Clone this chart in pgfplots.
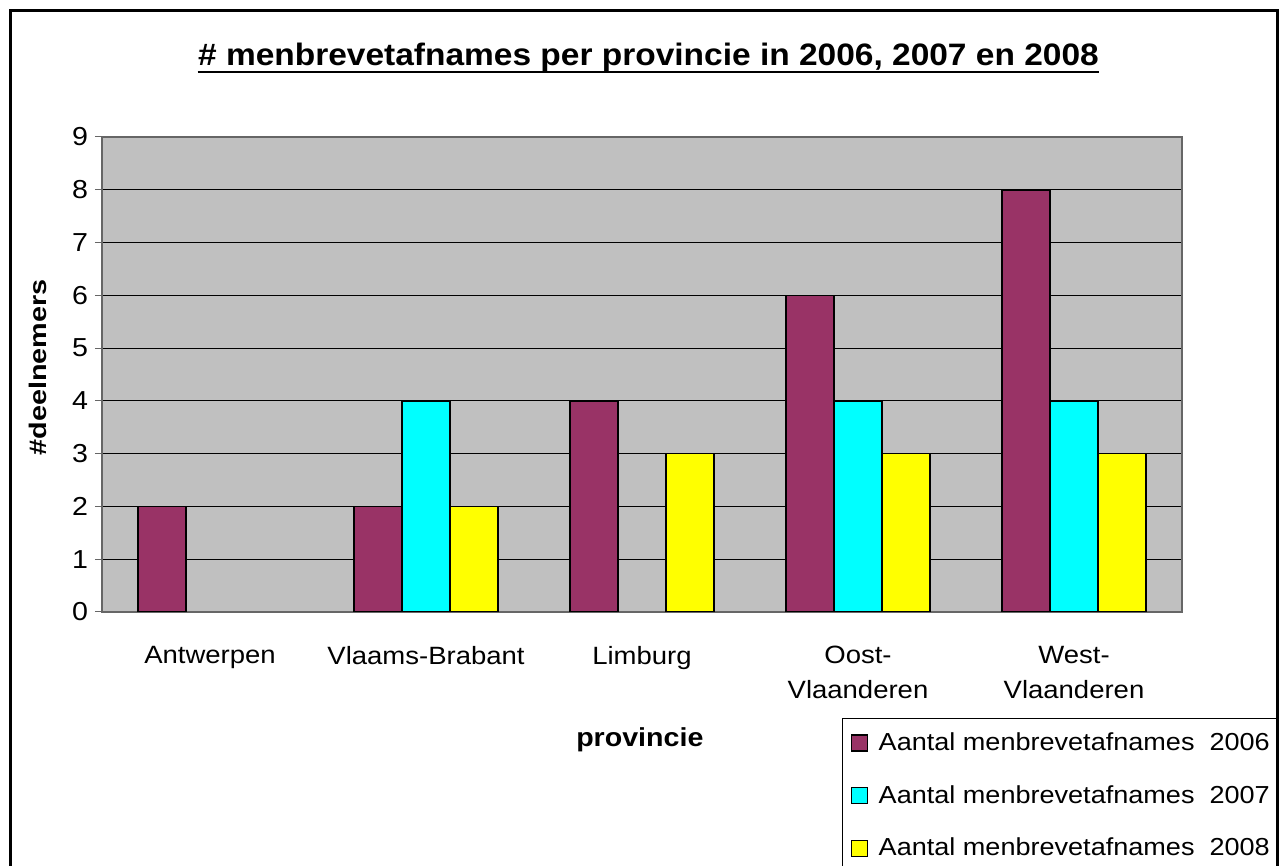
\documentclass[border=0pt]{standalone}
\usepackage{fontspec}
\setmainfont{Liberation Sans}[FakeStretch=1.1]
\newfontfamily\titlefont{Liberation Sans}[FakeStretch=1.08]
\newfontfamily\ylabfont{Liberation Sans}[FakeStretch=1.2]
\usepackage{pgfplots}
\pgfplotsset{compat=1.18}

\definecolor{barA}{HTML}{993366}
\definecolor{barB}{HTML}{00FFFF}
\definecolor{barC}{HTML}{FFFF00}
\definecolor{plotbg}{HTML}{C0C0C0}

\begin{document}
\begin{tikzpicture}[x=1pt,y=1pt]
  \useasboundingbox (0,0) rectangle (639.5,433);
  \node[anchor=base, inner sep=0pt, font=\titlefont\bfseries\fontsize{15.5}{18}\selectfont]
    (t) at (324.25,400) {\# menbrevetafnames per provincie in 2006, 2007 en 2008};
  \draw[line width=1.3pt] ([yshift=-3pt]t.base west) -- ([yshift=-3pt]t.base east);

  \begin{axis}[
      at={(51pt,127pt)}, anchor=south west,
      width=540pt, height=237.5pt, scale only axis,
      ybar=0pt, bar width=24pt,
      xmin=-0.5, xmax=4.5, ymin=0, ymax=9,
      ytick={0,...,9},
      xtick={0,...,4},
      xticklabels={Antwerpen, Vlaams-Brabant, Limburg, {Oost-\\Vlaanderen}, {West-\\Vlaanderen}},
      xticklabel style={align=center, font=\fontsize{12.5}{17.5}\selectfont, yshift=-10pt},
      yticklabel style={font=\fontsize{13}{15}\selectfont},
      /pgf/number format/assume math mode=true,
      major x tick style={draw=none},
      extra x ticks={-0.5,0.5,1.5,2.5,3.5,4.5},
      extra x tick labels={},
      extra x tick style={grid=none, major tick length=4pt, tick style={draw=gray!80!black}},
      xtick pos=left, ytick pos=left,
      tick align=outside,
      major tick length=3.5pt,
      tick style={draw=gray!80!black, line width=0.5pt},
      axis line style={draw=gray!80!black, line width=0.6pt},
      axis background/.style={fill=plotbg},
      ymajorgrids,
      major grid style={draw=black, line width=0.4pt},
      ylabel={\#deelnemers},
      ylabel style={at={(axis description cs:-0.059,0.515)}, anchor=center,
        font=\ylabfont\bfseries\fontsize{12}{14}\selectfont},
      xlabel={provincie},
      xlabel style={at={(axis description cs:0.498,-0.269)}, anchor=center,
        font=\bfseries\fontsize{13}{15}\selectfont},
      legend cell align=left,
      legend image code/.code={\draw[#1, draw=black, line width=0.6pt] (0pt,-4pt) rectangle (8pt,4pt);},
      legend style={at={(axis description cs:0.6852,-0.2232)}, anchor=north west,
        draw=black, line width=0.5pt, font=\fontsize{12.3}{14}\selectfont,
        row sep=12pt, inner xsep=4pt, inner ysep=5pt,
        /tikz/every odd column/.append style={column sep=3.5pt}},
    ]
    \addplot[fill=barA, draw=black, line width=0.8pt] coordinates {(0,2) (1,2) (2,4) (3,6) (4,8)};
    \addplot[fill=barB, draw=black, line width=0.8pt] coordinates {(1,4) (3,4) (4,4)};
    \addplot[fill=barC, draw=black, line width=0.8pt] coordinates {(1,2) (2,3) (3,3) (4,3)};
    \legend{Aantal menbrevetafnames\ \ 2006, Aantal menbrevetafnames\ \ 2007, Aantal menbrevetafnames\ \ 2008}
  \end{axis}

  % chart frame, drawn last so the legend box does not hide it
  \draw[line width=1.5pt] (5,-20) rectangle (638.5,427.5);
\end{tikzpicture}
\end{document}
